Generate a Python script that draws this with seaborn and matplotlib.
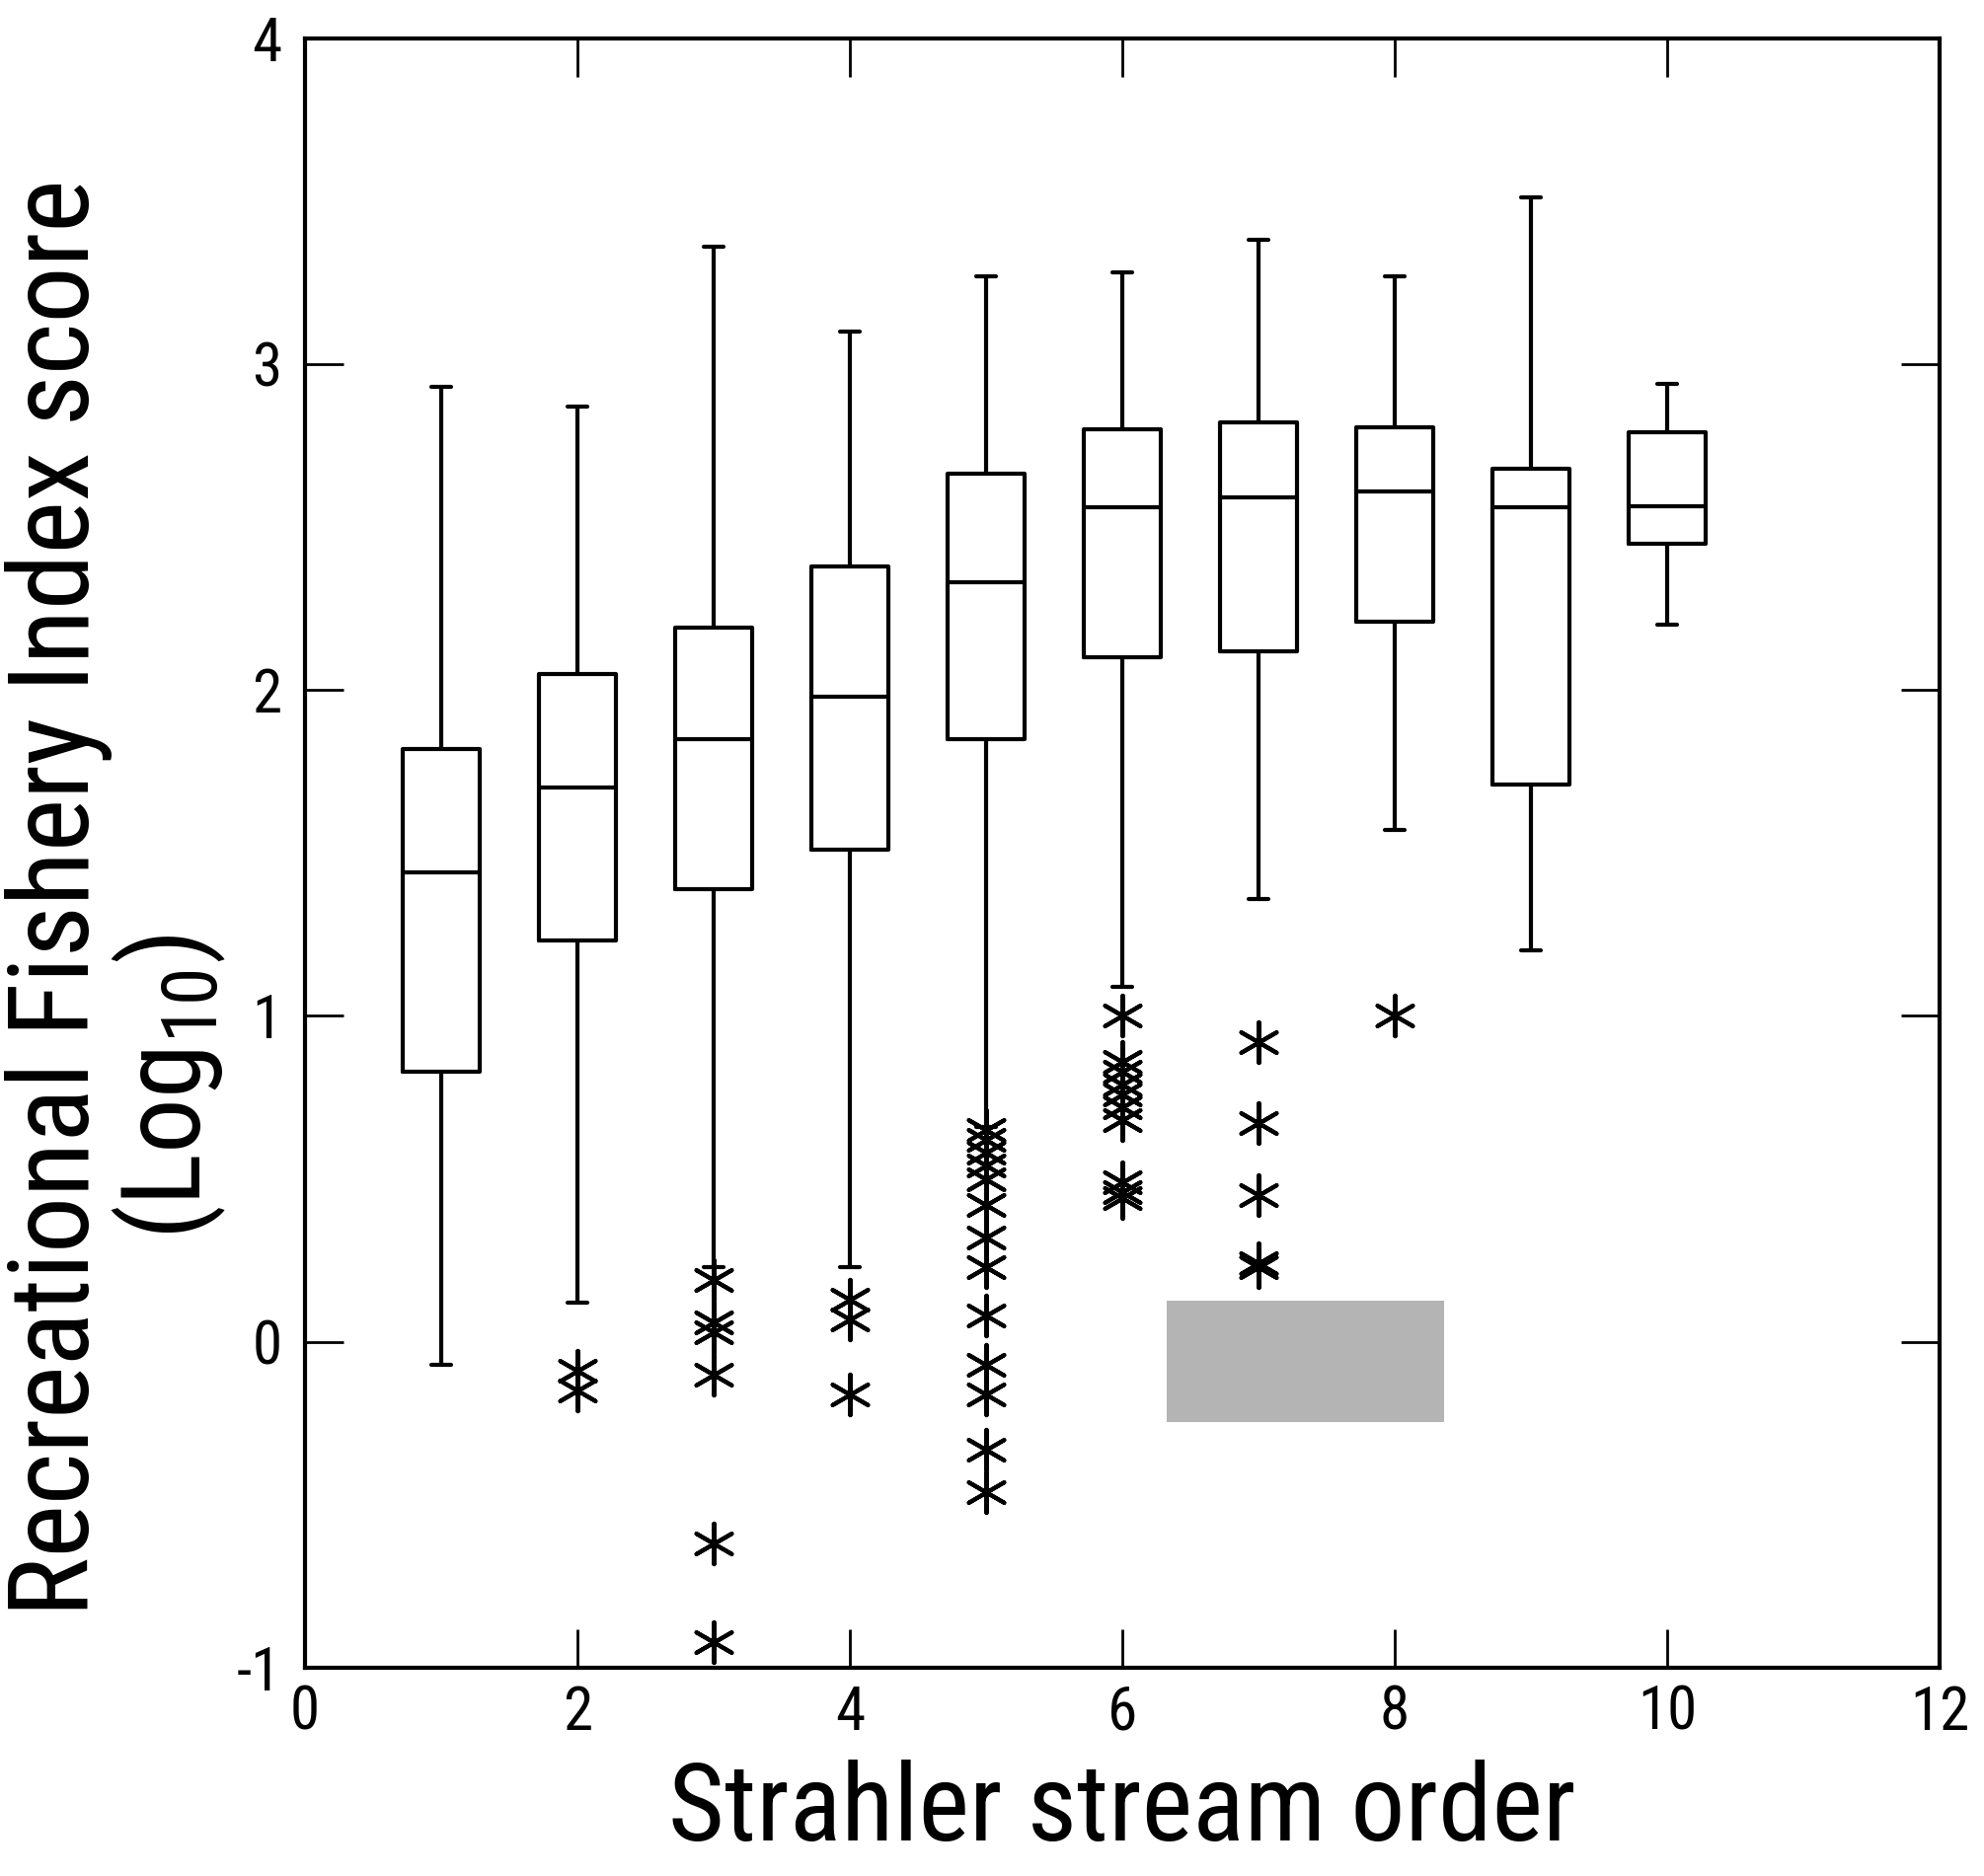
import os
import numpy as np
import pandas as pd
import matplotlib
matplotlib.use("Agg")
import matplotlib.pyplot as plt
import seaborn as sns
from matplotlib import font_manager as fm

# ---------------- data ----------------
orders = [1, 2, 3, 4, 5, 6, 7, 8, 9, 10]
whisker_low = [-0.07, 0.12, 0.23, 0.23, 0.66, 1.09, 1.36, 1.57, 1.20, 2.20]
q1 = [0.83, 1.23, 1.39, 1.51, 1.85, 2.10, 2.12, 2.21, 1.71, 2.45]
median = [1.44, 1.70, 1.85, 1.98, 2.33, 2.56, 2.59, 2.61, 2.56, 2.565]
q3 = [1.82, 2.05, 2.19, 2.38, 2.665, 2.80, 2.82, 2.805, 2.68, 2.79]
whisker_high = [2.93, 2.87, 3.36, 3.10, 3.27, 3.28, 3.38, 3.27, 3.51, 2.94]

outlier_order = ([2, 2] +
                 [3, 3, 3, 3, 3, 3] +
                 [4, 4, 4] +
                 [5] * 13 +
                 [6] * 10 +
                 [7, 7, 7, 7, 7] +
                 [8])
outlier_value = ([-0.09, -0.15] +
                 [0.19, 0.06, 0.03, -0.10, -0.62, -0.92] +
                 [0.13, 0.07, -0.16] +
                 [0.65, 0.62, 0.58, 0.54, 0.50, 0.42, 0.32, 0.23, 0.08, -0.07, -0.16, -0.33, -0.46] +
                 [1.00, 0.86, 0.83, 0.79, 0.76, 0.72, 0.68, 0.49, 0.46, 0.44] +
                 [0.92, 0.67, 0.45, 0.24, 0.23] +
                 [1.00])

cover_x = [6.33, 8.36]
cover_y = [-0.245, 0.125]

x_ticks = [0, 2, 4, 6, 8, 10, 12]
y_ticks = [-1, 0, 1, 2, 3, 4]
x_label = "Strahler stream order"
y_label_1 = "Recreational Fishery Index score"
y_label_2 = "(Log$_{10}$)"

# ---------------- style ----------------
sns.set_style("ticks")
plt.rcParams['font.family'] = ['Liberation Sans', 'DejaVu Sans']
plt.rcParams['text.color'] = 'black'


def pick_narrow_font():
    """Find an installed narrow / condensed sans face (Arial-Narrow-like)."""
    entries = [f for f in fm.fontManager.ttflist
               if f.style == 'normal' and str(f.weight) in ('400', 'normal', 'regular')]
    prefs = [
        lambda f: f.name in ('Liberation Sans Narrow', 'Arial Narrow'),
        lambda f: 'Liberation' in f.name and 'Narrow' in os.path.basename(f.fname),
        lambda f: 'Roboto' in f.name and 'ondensed' in (f.name + os.path.basename(f.fname)),
        lambda f: f.name.startswith('Noto Sans') and 'SemiCondensed' in os.path.basename(f.fname)
                  and 'Extra' not in os.path.basename(f.fname),
        lambda f: f.name.startswith('Noto Sans') and 'Condensed' in os.path.basename(f.fname)
                  and 'Extra' not in os.path.basename(f.fname) and 'Semi' not in os.path.basename(f.fname),
        lambda f: 'Open Sans' in f.name and 'ondensed' in (f.name + os.path.basename(f.fname)),
    ]
    for test in prefs:
        for f in entries:
            try:
                if test(f):
                    return f
            except Exception:
                pass
    return None


narrow_entry = pick_narrow_font()
if narrow_entry is not None:
    label_props = dict(family=narrow_entry.name, stretch=narrow_entry.stretch)
    math_pattern = f"{narrow_entry.name}:stretch={narrow_entry.stretch}"
    scale = 1.0
else:
    label_props = dict(family='Liberation Sans')
    math_pattern = 'Liberation Sans'
    scale = 0.82

plt.rcParams['mathtext.fontset'] = 'custom'
plt.rcParams['mathtext.rm'] = math_pattern
plt.rcParams['mathtext.default'] = 'rm'

fig = plt.figure(figsize=(20.10, 19.01), dpi=100)
ax = fig.add_axes([0.1537, 0.1110, 0.8239, 0.8687])

# box plot built from the five summary values of each group
box_df = pd.DataFrame({
    "order": np.repeat(orders, 5),
    "score": np.column_stack([whisker_low, q1, median, q3, whisker_high]).ravel(),
})
sns.boxplot(data=box_df, x="order", y="score", native_scale=True, width=0.56,
            whis=(0, 100), fill=False, color="black", linecolor="black",
            linewidth=3.0, capwidths=0.15, showfliers=False, ax=ax)

out_df = pd.DataFrame({"order": outlier_order, "score": outlier_value})
sns.scatterplot(data=out_df, x="order", y="score", marker=(6, 2, 0), s=880,
                color="black", edgecolor="black", linewidth=3.0, legend=False,
                ax=ax, zorder=4)

ax.fill_between(cover_x, cover_y[0], cover_y[1], color="#b4b4b4", lw=0, zorder=5)

ax.set_xlim(0, 12)
ax.set_ylim(-1, 4)
ax.set_xticks(x_ticks)
ax.set_yticks(y_ticks)
tick_size = 44 if narrow_entry is not None else 40
tick_fp = fm.FontProperties(size=tick_size, **label_props)
ax.set_xticklabels([str(t) for t in x_ticks], fontproperties=tick_fp)
ax.set_yticklabels([str(t) for t in y_ticks], fontproperties=tick_fp)
ax.set_xlabel("")
ax.set_ylabel("")
for s in ax.spines.values():
    s.set_visible(True)
    s.set_linewidth(3.0)
    s.set_color("black")
ax.tick_params(which="both", direction="in", top=True, right=True,
               length=28, width=2.0, colors="black")
ax.tick_params(axis="x", pad=12)
ax.tick_params(axis="y", pad=17)

fig.text(0.5657, 0.0189, x_label, fontsize=79 * scale, ha="center", va="baseline",
         color="black", **label_props)
fig.text(0.0448, 0.5213, y_label_1, fontsize=82 * scale, rotation=90,
         rotation_mode="anchor", ha="center", va="baseline", color="black",
         **label_props)
fig.text(0.1010, 0.4203, y_label_2, fontsize=80 * scale, rotation=90,
         rotation_mode="anchor", ha="center", va="baseline", color="black",
         **label_props)

fig.savefig("out.png", dpi=100)
